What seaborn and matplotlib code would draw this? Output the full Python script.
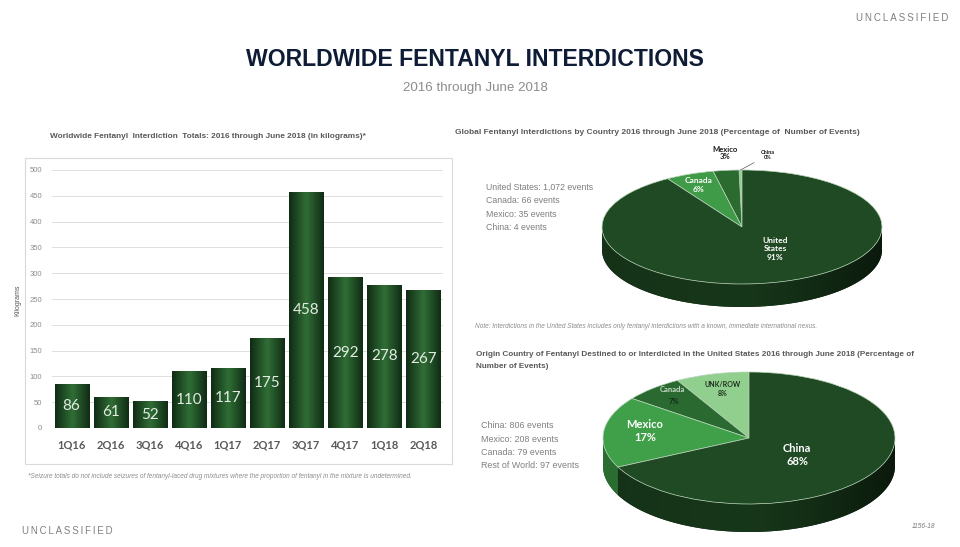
import numpy as np
import matplotlib
matplotlib.use('Agg')
import matplotlib.pyplot as plt
import seaborn as sns
from matplotlib.colors import LinearSegmentedColormap, to_rgb
from matplotlib.patches import Polygon, Rectangle

# ---------------------------------------------------------------------------
# Data
# ---------------------------------------------------------------------------
quarters = ['1Q16', '2Q16', '3Q16', '4Q16', '1Q17', '2Q17', '3Q17', '4Q17', '1Q18', '2Q18']
kilograms = [86, 61, 52, 110, 117, 175, 458, 292, 278, 267]

# pie order: counter-clockwise from 12 o'clock
global_countries = ['China', 'Mexico', 'Canada', 'United States']
global_events = [4, 35, 66, 1072]
global_colors = ['#92cf8f', '#2b6b30', '#3f9b47', '#1f4a23']

origin_countries = ['UNK/ROW', 'Canada', 'Mexico', 'China']
origin_legend_names = ['Rest of World', 'Canada', 'Mexico', 'China']
origin_events = [97, 79, 208, 806]
origin_colors = ['#90cf8e', '#2a6a30', '#40a049', '#1f4a23']

W, H = 960, 547
SANS = ['Liberation Sans', 'DejaVu Sans']
LABEL_FONT = ['Lato', 'DejaVu Sans']
GRAY = '#7f7f7f'
DARKGRAY = '#595959'

sns.set_theme(style='white')
plt.rcParams['font.family'] = SANS

fig = plt.figure(figsize=(W / 100, H / 100), dpi=100)


def fx(x):
    return x / W


def fy(y):
    return 1 - y / H


def px_axes(x0, y0, x1, y1):
    return fig.add_axes([x0 / W, 1 - y1 / H, (x1 - x0) / W, (y1 - y0) / H])


def ftext(x, y, s, **kw):
    kw.setdefault('va', 'center')
    return fig.text(fx(x), fy(y), s, **kw)


def spaced(s):
    return '\u2009'.join(s)


# ---------------------------------------------------------------------------
# Header / footer
# ---------------------------------------------------------------------------
ftext(948, 18, spaced('UNCLASSIFIED'), ha='right', fontsize=7, color=GRAY)
ftext(22, 531, spaced('UNCLASSIFIED'), ha='left', fontsize=6.9, color=GRAY)
ftext(475, 60, 'WORLDWIDE FENTANYL INTERDICTIONS', ha='center', fontsize=16.6,
      fontweight='bold', color='#0f1c36')
ftext(475, 88, '2016 through June 2018', ha='center', fontsize=9.6, color='#8c8c8c')
ftext(935, 527, '1156-18', ha='right', fontsize=4.8, style='italic', color=GRAY)

# ---------------------------------------------------------------------------
# Bar chart
# ---------------------------------------------------------------------------
fig.add_artist(Rectangle((fx(25), fy(464)), (452 - 25) / W, (464 - 158) / H,
                         transform=fig.transFigure, fill=False,
                         edgecolor='#d9d9d9', linewidth=0.8))
ftext(50, 137, 'Worldwide Fentanyl  Interdiction  Totals: 2016 through June 2018 (in kilograms)*',
      ha='left', fontsize=5.95, fontweight='bold', color=DARKGRAY)

ax = px_axes(52, 170, 443, 428)
sns.barplot(x=quarters, y=kilograms, color='#1f4a23', width=0.87, ax=ax,
            edgecolor='#6c8f6d', linewidth=0.6, zorder=2)

bar_cmap = LinearSegmentedColormap.from_list(
    'bar', ['#112b15', '#1f4d24', '#316e37', '#1f4d24', '#112b15'])
grad = np.linspace(0, 1, 128).reshape(1, -1)
for p in list(ax.patches):
    x0, y0 = p.get_x(), p.get_y()
    im = ax.imshow(grad, cmap=bar_cmap, aspect='auto', zorder=2.1,
                   extent=[x0, x0 + p.get_width(), y0, y0 + p.get_height()],
                   interpolation='bicubic')
    im.set_clip_path(p)

ax.bar_label(ax.containers[0], labels=[str(v) for v in kilograms],
             label_type='center', color='#e2ece2', fontsize=11, family=LABEL_FONT)
ax.set_xlim(-0.5, len(quarters) - 0.5)
ax.set_ylim(0, 500)
ax.set_yticks(range(0, 501, 50))
ax.grid(axis='y', color='#d9d9d9', linewidth=0.6)
ax.set_axisbelow(True)
for s in ax.spines.values():
    s.set_visible(False)
ax.tick_params(length=0)
ax.tick_params(axis='y', labelsize=5.5, labelcolor='#8c8c8c', pad=7)
ax.tick_params(axis='x', labelsize=8, labelcolor=DARKGRAY, pad=8)
for t in ax.get_xticklabels():
    t.set_fontweight('bold')
    t.set_family(LABEL_FONT)
ax.set_xlabel('')
ax.set_ylabel('')
ftext(18, 300, 'Kilograms', rotation=90, ha='center', fontsize=5, color=DARKGRAY)
ftext(28, 476, '*Seizure totals do not include seizures of fentanyl-laced drug mixtures '
      'where the proportion of fentanyl in the mixture is undetermined.',
      ha='left', fontsize=4.7, style='italic', color='#8c8c8c')


# ---------------------------------------------------------------------------
# 3D-looking pies
# ---------------------------------------------------------------------------
def side_shade(x):
    # darker towards the right edge of the rim
    return 0.74 - 0.40 * np.clip(x, 0, 1) ** 1.3 - 0.06 * np.clip(-x, 0, 1)


def draw_pie(ax, values, colors, depth):
    wedges, _ = ax.pie(values, colors=colors, startangle=90, counterclock=True,
                       wedgeprops=dict(edgecolor='#b8d4b8', linewidth=0.5, zorder=2))
    ax.set_aspect('auto')
    xs = np.linspace(-1, 1, 256)
    for w in wedges:
        lo, hi = max(w.theta1, 180), min(w.theta2, 360)
        if hi <= lo:
            continue
        base = np.array(to_rgb(w.get_facecolor()))
        ts = np.radians(np.linspace(lo, hi, 90))
        top = np.column_stack([np.cos(ts), np.sin(ts)])
        bot = np.column_stack([np.cos(ts[::-1]), np.sin(ts[::-1]) - depth])
        poly = Polygon(np.vstack([top, bot]), closed=True,
                       facecolor=base * 0.6, edgecolor='none', zorder=1)
        ax.add_patch(poly)
        cols = np.clip(base[None, :] * side_shade(xs)[:, None], 0, 1)
        img = ax.imshow(cols[None, :, :], aspect='auto', zorder=1.1,
                        extent=[-1, 1, -1 - depth, 0], interpolation='bilinear')
        img.set_clip_path(poly)
    ax.set_xlim(-1, 1)
    ax.set_ylim(-1 - depth, 1)
    ax.axis('off')
    return wedges


def pct(values):
    total = sum(values)
    return [f'{round(100 * v / total)}%' for v in values]


# Pie 1 ------------------------------------------------------------------
ftext(455, 133, 'Global Fentanyl Interdictions by Country 2016 through June 2018 '
      '(Percentage of  Number of Events)', ha='left', fontsize=6,
      fontweight='bold', color=DARKGRAY)
for i, (c, e) in enumerate(zip(global_countries[::-1], global_events[::-1])):
    ftext(486, 187 + i * 13.6, f'{c}: {e:,} events', ha='left', fontsize=6.3, color=GRAY)

ax1 = px_axes(602, 170, 882, 307)
w1 = draw_pie(ax1, global_events, global_colors, 23 / 57)
p1 = pct(global_events)
bold_white = dict(ha='center', fontweight='bold', color='white', family=LABEL_FONT)
ftext(775, 249, 'United\nStates\n' + p1[3], fontsize=6, linespacing=1.25, **bold_white)
ftext(699, 185, 'Canada\n' + p1[2], fontsize=6, linespacing=1.2, **bold_white)
ftext(725, 153, 'Mexico\n' + p1[1], fontsize=5.5, linespacing=1.15, ha='center',
      fontweight='bold', color='#1a1a1a', family=LABEL_FONT)
mid = np.radians((w1[0].theta1 + w1[0].theta2) / 2)
ax1.annotate('China\n' + p1[0], xy=(np.cos(mid), np.sin(mid)),
             xytext=(fx(768), fy(155)), textcoords='figure fraction',
             ha='center', va='center', fontsize=4, fontweight='bold',
             color='#1a1a1a', family=LABEL_FONT,
             arrowprops=dict(arrowstyle='-', color='#595959', lw=0.5,
                             shrinkA=3, shrinkB=0))
ftext(475, 326, 'Note: Interdictions in the United States includes only fentanyl '
      'interdictions with a known, immediate international nexus.',
      ha='left', fontsize=4.7, style='italic', color='#8c8c8c')

# Pie 2 ------------------------------------------------------------------
ftext(476, 360.5, 'Origin Country of Fentanyl Destined to or Interdicted in the United '
      'States 2016 through June 2018 (Percentage of\nNumber of Events)', ha='left',
      fontsize=5.9, fontweight='bold', color=DARKGRAY, linespacing=2.2)
for i, (c, e) in enumerate(zip(origin_legend_names[::-1], origin_events[::-1])):
    ftext(481, 426 + i * 13.3, f'{c}: {e:,} events', ha='left', fontsize=6.4, color=GRAY)

ax2 = px_axes(603, 372, 895, 532)
draw_pie(ax2, origin_events, origin_colors, 28 / 66)
p2 = pct(origin_events)
ftext(797, 455, 'China\n' + p2[3], fontsize=8, linespacing=1.3, **bold_white)
ftext(645, 431, 'Mexico\n' + p2[2], fontsize=8, linespacing=1.3, **bold_white)
ftext(672, 390, 'Canada', fontsize=5.5, ha='center', fontweight='bold',
      color='#c9dac9', family=LABEL_FONT)
ftext(674, 402, p2[1], fontsize=5.5, ha='center', fontweight='bold',
      color='#13291a', family=LABEL_FONT)
ftext(723, 389, 'UNK/ROW\n' + p2[0], fontsize=5, linespacing=1.3, ha='center',
      fontweight='bold', color='#1d2f1d', family=LABEL_FONT)

fig.savefig('out.png', dpi=100)
